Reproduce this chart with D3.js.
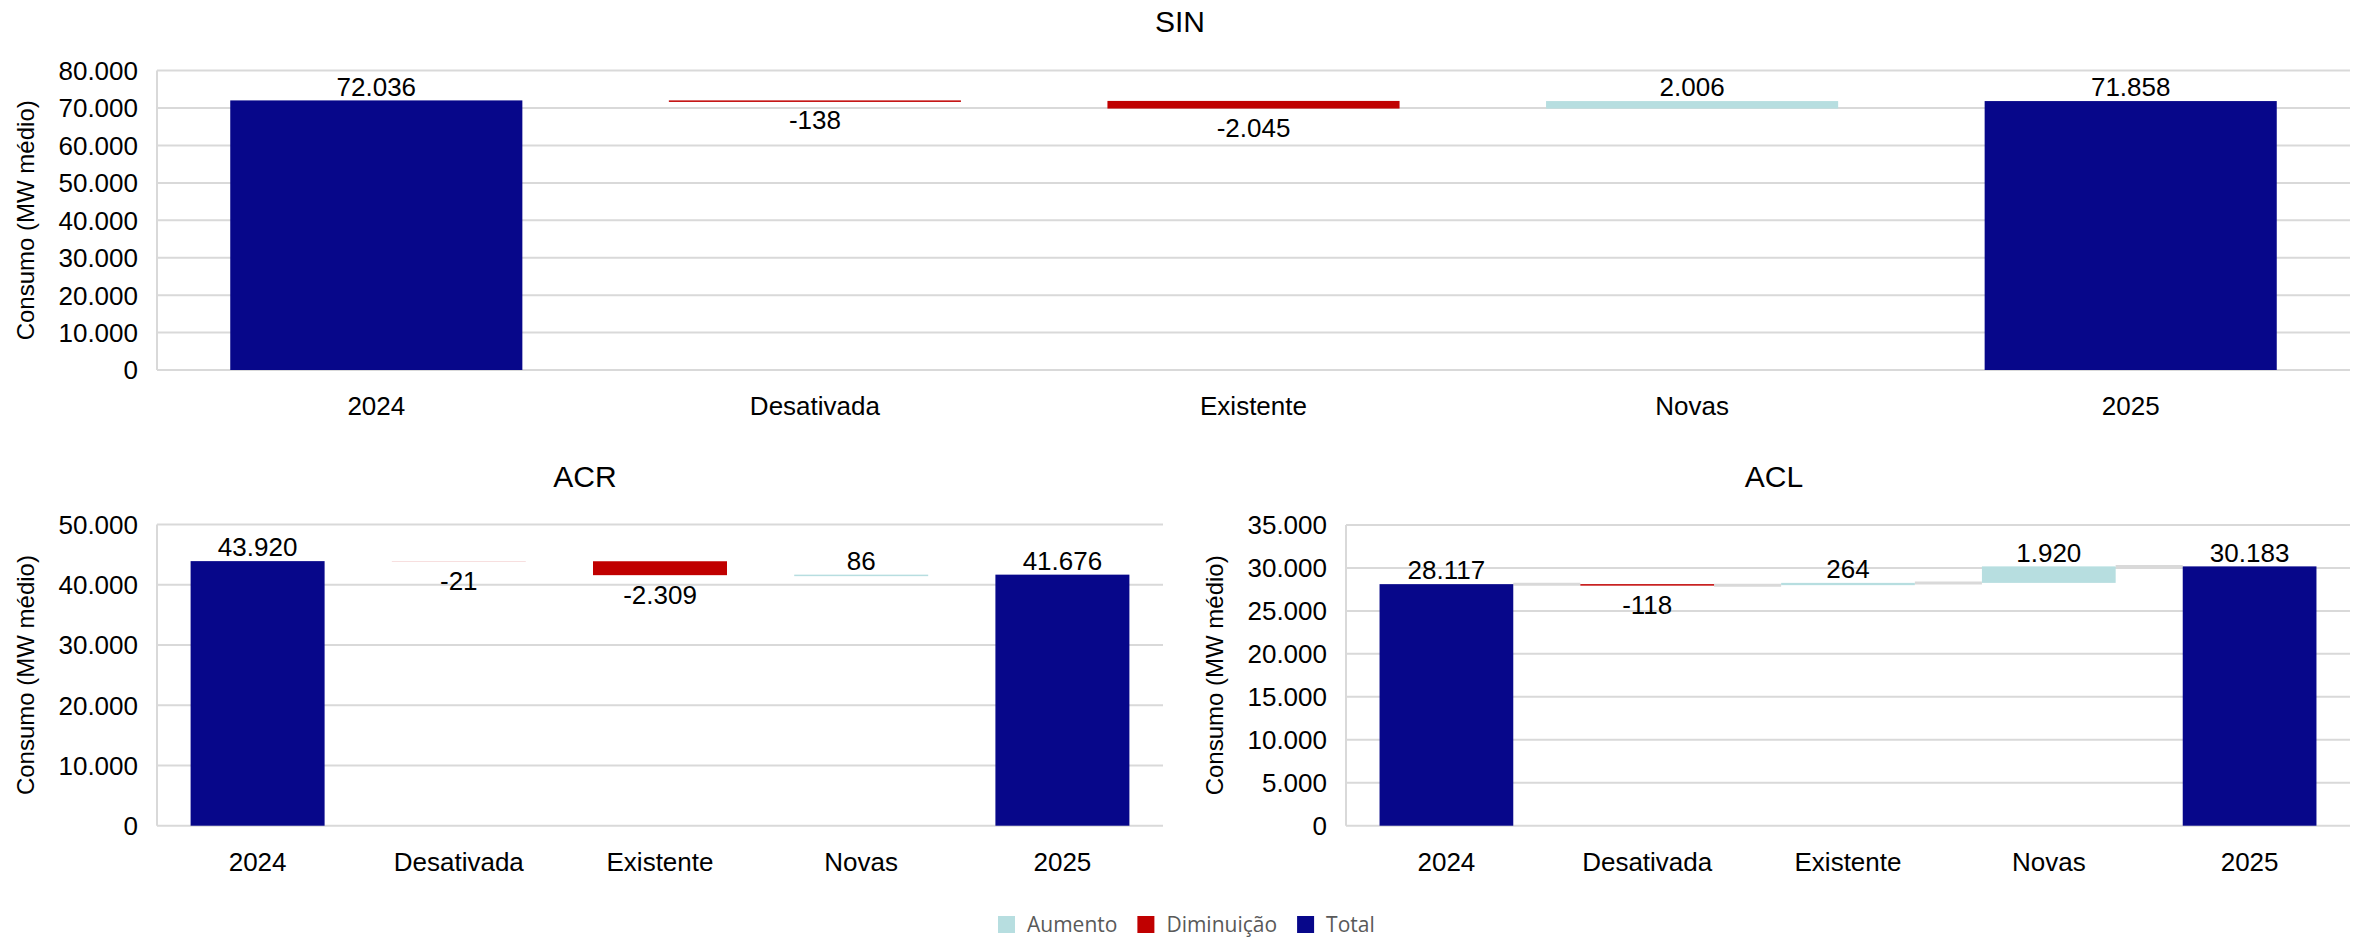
<!DOCTYPE html>
<html>
<head>
<meta charset="utf-8">
<script src="https://cdn.jsdelivr.net/npm/d3@7"></script>
<style>
  body { margin: 0; background: #fff; }
  svg text { font-family: "Liberation Sans", Arial, sans-serif; fill: #000; }
</style>
</head>
<body>
<svg id="chart" width="2359" height="938"></svg>
<script>
const width = 2359;
const height = 938;

// Data
const categories = ["2024", "Desativada", "Existente", "Novas", "2025"];
const sinValues = [72036, -138, -2045, 2006, 71858];
const acrValues = [43920, -21, -2309, 86, 41676];
const aclValues = [28117, -118, 264, 1920, 30183];
const sinTicks = [0, 10000, 20000, 30000, 40000, 50000, 60000, 70000, 80000];
const acrTicks = [0, 10000, 20000, 30000, 40000, 50000];
const aclTicks = [0, 5000, 10000, 15000, 20000, 25000, 30000, 35000];
const legendLabels = ["Aumento", "Diminuição", "Total"];
const yTitle = "Consumo (MW médio)";

const colors = { Aumento: "#b7dee0", "Diminuição": "#c00000", Total: "#07078a" };
const grid = "#d9d9d9";

const fmt = d3.formatLocale({
  decimal: ",",
  thousands: ".",
  grouping: [3],
  currency: ["", ""],
  minus: "-"
}).format(",d");

const svg = d3.select("#chart");

// waterfall steps: first and last are totals, middle ones float
function steps(values) {
  let level = 0;
  return values.map((v, i) => {
    if (i === 0 || i === values.length - 1) {
      level = v;
      return { cat: categories[i], v: v, start: 0, end: v, kind: "Total" };
    }
    const s = level;
    level = level + v;
    return { cat: categories[i], v: v, start: s, end: level, kind: v >= 0 ? "Aumento" : "Diminuição" };
  });
}

function drawPanel(p) {
  const g = svg.append("g");
  const data = steps(p.values);

  const x = d3.scaleBand()
    .domain(categories)
    .range([p.left, p.right])
    .paddingInner(0.334)
    .paddingOuter(0.167);

  const y = d3.scaleLinear()
    .domain([0, p.ticks[p.ticks.length - 1]])
    .range([p.bottom, p.top]);

  // gridlines
  g.selectAll("line.grid")
    .data(p.ticks)
    .enter()
    .append("line")
    .attr("x1", p.left)
    .attr("x2", p.right)
    .attr("y1", (d) => y(d))
    .attr("y2", (d) => y(d))
    .attr("stroke", grid)
    .attr("stroke-width", 2);

  g.append("line")
    .attr("x1", p.left)
    .attr("x2", p.left)
    .attr("y1", y.range()[1])
    .attr("y2", y.range()[0])
    .attr("stroke", grid)
    .attr("stroke-width", 2);

  // tick labels
  g.selectAll("text.tick")
    .data(p.ticks)
    .enter()
    .append("text")
    .attr("x", p.left - 19)
    .attr("y", (d) => y(d))
    .attr("dy", "0.36em")
    .attr("text-anchor", "end")
    .style("font-size", "26px")
    .text((d) => fmt(d));

  // connectors (only where the original shows them)
  if (p.connectors) {
    g.selectAll("line.conn")
      .data(data.slice(0, -1))
      .enter()
      .append("line")
      .attr("x1", (d) => x(d.cat) + x.bandwidth())
      .attr("x2", (d, i) => x(data[i + 1].cat))
      .attr("y1", (d) => y(d.end))
      .attr("y2", (d) => y(d.end))
      .attr("stroke", grid)
      .attr("stroke-width", 3);
  }

  // bars (tiny steps still drawn as a 1px line, like the original)
  g.selectAll("rect.bar")
    .data(data)
    .enter()
    .append("rect")
    .attr("x", (d) => x(d.cat))
    .attr("width", x.bandwidth())
    .attr("y", (d) => y(Math.max(d.start, d.end)))
    .attr("height", (d) => {
      const h = Math.abs(y(d.start) - y(d.end));
      return h < 0.25 ? h : Math.max(1.5, h);
    })
    .attr("fill", (d) => colors[d.kind]);

  // value labels
  g.selectAll("text.val")
    .data(data)
    .enter()
    .append("text")
    .attr("x", (d) => x(d.cat) + x.bandwidth() / 2)
    .attr("y", (d) =>
      d.v < 0
        ? y(Math.min(d.start, d.end)) + 19
        : y(Math.max(d.start, d.end)) - 14
    )
    .attr("dy", "0.36em")
    .attr("text-anchor", "middle")
    .style("font-size", "26px")
    .text((d) => fmt(d.v));

  // category labels
  g.selectAll("text.cat")
    .data(categories)
    .enter()
    .append("text")
    .attr("x", (d) => x(d) + x.bandwidth() / 2)
    .attr("y", p.bottom + 36)
    .attr("dy", "0.36em")
    .attr("text-anchor", "middle")
    .style("font-size", "26px")
    .text((d) => d);

  // title
  g.append("text")
    .attr("x", p.titleX)
    .attr("y", p.titleY)
    .attr("dy", "0.36em")
    .attr("text-anchor", "middle")
    .style("font-size", "30px")
    .text(p.title);

  // y axis title
  g.append("text")
    .attr("transform", "translate(" + p.labelX + "," + (p.top + p.bottom) / 2 + ") rotate(-90)")
    .attr("dy", "0.36em")
    .attr("text-anchor", "middle")
    .style("font-size", "24px")
    .text(yTitle);
}

drawPanel({
  title: "SIN", values: sinValues, ticks: sinTicks,
  left: 157, right: 2350, top: 70.6, bottom: 370,
  titleX: 1180, titleY: 21, labelX: 25, connectors: false
});

drawPanel({
  title: "ACR", values: acrValues, ticks: acrTicks,
  left: 157, right: 1163, top: 524.5, bottom: 825.7,
  titleX: 585, titleY: 476, labelX: 25, connectors: false
});

drawPanel({
  title: "ACL", values: aclValues, ticks: aclTicks,
  left: 1346, right: 2350, top: 525, bottom: 825.7,
  titleX: 1774, titleY: 476, labelX: 1214, connectors: true
});

// legend
const legend = svg.append("g");
let lx = 0;
legendLabels.forEach((name) => {
  legend.append("rect")
    .attr("x", lx)
    .attr("y", -8)
    .attr("width", 17)
    .attr("height", 17)
    .attr("fill", colors[name]);
  const t = legend.append("text")
    .attr("x", lx + 29)
    .attr("y", 0)
    .attr("dy", "0.36em")
    .style("font-family", "'Open Sans', sans-serif")
    .style("font-size", "21px")
    .style("fill", "#595959")
    .text(name);
  lx += 29 + t.node().getComputedTextLength() + 20;
});
legend.attr("transform", "translate(" + (998) + ",924)");
</script>
</body>
</html>
